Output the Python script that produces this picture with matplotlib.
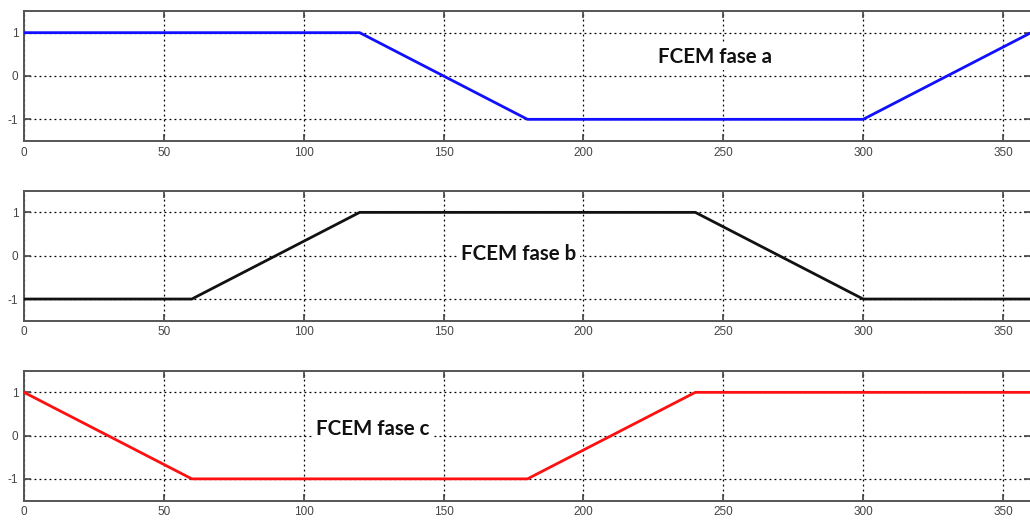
import matplotlib
matplotlib.use("Agg")
import matplotlib.pyplot as plt

plt.rcParams["axes.unicode_minus"] = False

# Data
x_a = [0, 120, 180, 300, 360]
y_a = [1, 1, -1, -1, 1]
x_b = [0, 60, 120, 240, 300, 360]
y_b = [-1, -1, 1, 1, -1, -1]
x_c = [0, 60, 180, 240, 360]
y_c = [1, -1, -1, 1, 1]
labels = ["FCEM fase a", "FCEM fase b", "FCEM fase c"]
label_pos = [(247, 0.44), (177, 0.03), (124.5, 0.155)]
colors = ["#1010ff", "#111111", "#ff1010"]
x_ticks = [0, 50, 100, 150, 200, 250, 300, 350]
y_ticks = [-1, 0, 1]

W, H = 1030, 521
fig = plt.figure(figsize=(W / 100, H / 100), dpi=100)

# axes boxes in pixel coordinates (left, top, right, bottom)
boxes = [(24, 11, 1031, 141), (24, 190.7, 1031, 320.7), (24, 370.7, 1031, 500.5)]
series = [(x_a, y_a), (x_b, y_b), (x_c, y_c)]

for (l, t, r, b), (xs, ys), lab, lp, col in zip(boxes, series, labels, label_pos, colors):
    ax = fig.add_axes([l / W, (H - b) / H, (r - l) / W, (b - t) / H])
    ax.plot(xs, ys, color=col, lw=2.0, zorder=3)
    ax.set_xlim(0, 360)
    ax.set_ylim(-1.5, 1.5)
    ax.set_xticks(x_ticks)
    ax.set_yticks(y_ticks)
    ax.grid(True, color="black", linestyle=(0, (1.5, 2.5)), linewidth=0.9)
    ax.tick_params(direction="in", length=5, width=1.2, colors="#444444",
                   labelsize=8.5, labelcolor="#444444", top=True, right=True, pad=4)
    for tl in ax.get_xticklabels() + ax.get_yticklabels():
        tl.set_family(["Liberation Sans", "DejaVu Sans"])
    for s in ax.spines.values():
        s.set_color("#555555")
        s.set_linewidth(1.4)
    ax.text(lp[0], lp[1], lab, fontsize=14.8, fontweight="bold", family=["Lato", "DejaVu Sans"],
            ha="center", va="center", color="#111111", zorder=4,
            bbox=dict(facecolor="white", edgecolor="none", pad=2))

fig.savefig("out.png", dpi=100, facecolor="white")
